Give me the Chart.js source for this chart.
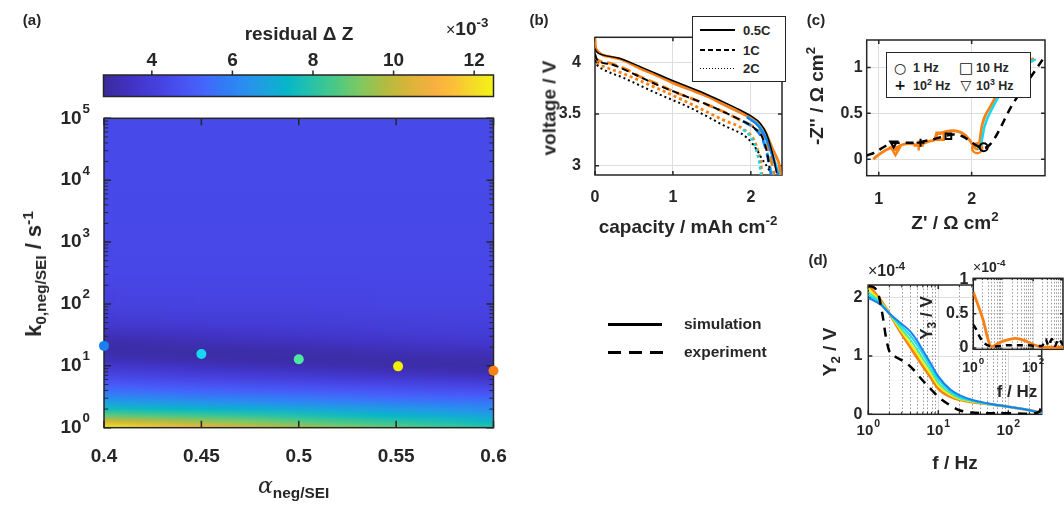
<!DOCTYPE html>
<html>
<head>
<meta charset="utf-8">
<script src="https://cdn.jsdelivr.net/npm/chart.js@4.4.1/dist/chart.umd.min.js"></script>
<style>
  html, body { margin: 0; padding: 0; background: #fff; }
  #fig { position: relative; width: 1064px; height: 505px; overflow: hidden;
         font-family: "Liberation Sans", Arial, sans-serif; font-weight: bold; color: #262626; }
  #fig canvas { position: absolute; left: 0; top: 0; }
  .t  { position: absolute; white-space: nowrap; line-height: 1; transform: translate(-50%, -50%); }
  .r  { transform: translate(-50%, -50%) rotate(-90deg); }
  .tl { position: absolute; white-space: nowrap; line-height: 1; transform: translateY(-50%); }
  sub, sup { font-size: 70%; line-height: 0; }
  .box { position: absolute; border: 1.5px solid #262626; background: #fff; box-sizing: border-box; }
  .ln  { position: absolute; }
  .sym { font-family: "DejaVu Sans", sans-serif; font-weight: bold; color: #111; }
</style>
</head>
<body>
<div id="fig">
  <canvas id="cbar" width="1064" height="505"></canvas>
  <canvas id="heat" width="1064" height="505"></canvas>
  <canvas id="volt" width="1064" height="505"></canvas>
  <canvas id="nyq" width="1064" height="505"></canvas>
  <canvas id="harm" width="1064" height="505"></canvas>
  <canvas id="inset" width="1064" height="505"></canvas>

  <!-- panel (a) -->
  <div class="t" style="left:32px;top:19px;font-size:15px">(a)</div>
  <div class="t" style="left:299px;top:33px;font-size:19px">residual &Delta; Z</div>
  <div class="tl" style="left:446px;top:28px;font-size:19px"><span style="font-weight:normal;font-size:16px">&times;</span>10<sup>-3</sup></div>
  <div class="t r" style="left:34px;top:274px;font-size:22px">k<sub>0,neg/SEI</sub> / s<sup>-1</sup></div>
  <div class="tl" style="left:258px;top:486px;font-size:22px"><span style="font-family:'DejaVu Serif',serif;font-style:italic;font-weight:normal">&alpha;</span><sub>neg/SEI</sub></div>

  <!-- panel (b) -->
  <div class="t" style="left:539px;top:19px;font-size:15px">(b)</div>
  <div class="t r" style="left:549px;top:108px;font-size:19px">voltage / V</div>
  <div class="t" style="left:688px;top:226px;font-size:19px">capacity / mAh cm<sup>-2</sup></div>
  <div class="box" style="left:692px;top:16px;width:94px;height:66px"></div>
  <div class="ln" style="left:700px;top:29px;width:35px;height:1.5px;background:#000"></div>
  <div class="ln" style="left:700px;top:49px;width:35px;height:1.5px;background:repeating-linear-gradient(90deg,#000 0 5px,transparent 5px 8px)"></div>
  <div class="ln" style="left:700px;top:67.5px;width:35px;height:1.5px;background:repeating-linear-gradient(90deg,#000 0 1.5px,transparent 1.5px 3px)"></div>
  <div class="tl" style="left:743px;top:30px;font-size:13px">0.5C</div>
  <div class="tl" style="left:743px;top:50px;font-size:13px">1C</div>
  <div class="tl" style="left:743px;top:68px;font-size:13px">2C</div>

  <!-- panel (c) -->
  <div class="t" style="left:816px;top:19px;font-size:15px">(c)</div>
  <div class="t r" style="left:816px;top:96px;font-size:19px">-Z'' / &Omega; cm<sup>2</sup></div>
  <div class="t" style="left:955px;top:222px;font-size:19px">Z' / &Omega; cm<sup>2</sup></div>
  <div class="box" style="left:886px;top:52px;width:145px;height:46px"></div>
  <div class="t sym" style="left:900px;top:67.5px;font-size:14px">&#9675;</div>
  <div class="t sym" style="left:966px;top:67.5px;font-size:15px">&#9633;</div>
  <div class="t sym" style="left:900px;top:85px;font-size:14px">+</div>
  <div class="t sym" style="left:966px;top:85px;font-size:14px">&#9661;</div>
  <div class="tl" style="left:913px;top:68px;font-size:12.5px">1 Hz</div>
  <div class="tl" style="left:976px;top:68px;font-size:12.5px">10 Hz</div>
  <div class="tl" style="left:913px;top:86px;font-size:12.5px">10<sup>2</sup> Hz</div>
  <div class="tl" style="left:976px;top:86px;font-size:12.5px">10<sup>3</sup> Hz</div>

  <!-- panel (d) -->
  <div class="t" style="left:818px;top:259px;font-size:15px">(d)</div>
  <div class="t r" style="left:829px;top:352px;font-size:19px">Y<sub>2</sub> / V</div>
  <div class="t" style="left:955px;top:462px;font-size:19px">f / Hz</div>
  <div class="tl" style="left:868px;top:271px;font-size:16px"><span style="font-weight:normal">&times;</span>10<sup>-4</sup></div>
  <div class="tl" style="left:973px;top:267px;font-size:14px"><span style="font-weight:normal">&times;</span>10<sup>-4</sup></div>
  <div class="t r" style="left:926px;top:318px;font-size:17px">Y<sub>3</sub> / V</div>
  <div class="t" style="left:1017px;top:391px;font-size:17px">f / Hz</div>

  <!-- shared line-style legend -->
  <div class="ln" style="left:608px;top:322.5px;width:54px;height:3px;background:#000"></div>
  <div class="ln" style="left:608px;top:351px;width:55px;height:3px;background:repeating-linear-gradient(90deg,#000 0 13px,transparent 13px 21px)"></div>
  <div class="tl" style="left:684px;top:324px;font-size:15.5px">simulation</div>
  <div class="tl" style="left:684px;top:352px;font-size:15.5px">experiment</div>
</div>

<script>
'use strict';

// ---------------------------------------------------------------------------
// Data
// ---------------------------------------------------------------------------

// (a) residual map: columns at alphaCols, rows at log10(k) = logKRows (x 1e-3)
const cbarTicks = [4, 6, 8, 10, 12];
const alphaTicks = [0.4, 0.45, 0.5, 0.55, 0.6];
const alphaCols = [0.4, 0.45, 0.5, 0.55, 0.6];
const logKRows = [0, 0.1, 0.2, 0.3, 0.4, 0.5, 0.6, 0.7, 0.8, 0.9, 1.0, 1.1, 1.2, 1.3, 1.4, 1.5, 1.7, 2.0, 2.5, 3, 4, 5];
const resA40 = [12.3, 10.3, 8.8, 7.6, 6.8, 6.1, 5.5, 5.0, 4.5, 4.1, 3.7, 3.3, 3.05, 3.0, 3.1, 3.35, 3.8, 4.15, 4.35, 4.4, 4.45, 4.45];
const resA45 = [11.0, 9.5, 8.3, 7.3, 6.5, 5.8, 5.2, 4.7, 4.2, 3.8, 3.4, 3.1, 3.0, 3.1, 3.3, 3.5, 3.9, 4.2, 4.35, 4.4, 4.45, 4.45];
const resA50 = [9.7, 8.7, 7.8, 7.0, 6.2, 5.6, 5.0, 4.5, 4.0, 3.6, 3.2, 3.0, 3.05, 3.2, 3.45, 3.65, 3.95, 4.2, 4.35, 4.4, 4.45, 4.45];
const resA55 = [8.8, 8.0, 7.3, 6.6, 5.9, 5.3, 4.8, 4.3, 3.8, 3.35, 3.05, 3.05, 3.2, 3.4, 3.6, 3.8, 4.05, 4.25, 4.35, 4.4, 4.45, 4.45];
const resA60 = [8.0, 7.4, 6.8, 6.2, 5.7, 5.1, 4.6, 4.1, 3.6, 3.15, 3.0, 3.1, 3.3, 3.55, 3.75, 3.9, 4.1, 4.25, 4.35, 4.4, 4.45, 4.45];
const residualCols = [resA40, resA45, resA50, resA55, resA60];
const kDecades = [1, 10, 100, 1000, 10000, 100000];
const optAlpha = [0.4, 0.45, 0.5, 0.551, 0.6];
const optK = [21, 15.5, 12.8, 9.8, 8.3];

// (b) discharge curves: capacity / mAh cm-2, voltage / V
const capTicks = [0, 1, 2];
const voltTicks = [3, 3.5, 4];
const capSim05 = [0, 0.005, 0.02, 0.1, 0.2, 0.36, 0.58, 0.8, 1.0, 1.2, 1.44, 1.65, 1.87, 2.04, 2.17, 2.27, 2.33, 2.36, 2.38];
const vSim05 = [4.23, 4.16, 4.12, 4.07, 4.05, 4.02, 3.94, 3.87, 3.8, 3.74, 3.67, 3.59, 3.51, 3.44, 3.35, 3.18, 3.08, 3.02, 2.91];
const capExp05 = [0, 0.02, 0.1, 0.3, 0.6, 1.0, 1.4, 1.8, 2.0, 2.12, 2.2, 2.26, 2.3, 2.33];
const vExp05 = [4.13, 4.1, 4.07, 4.04, 3.95, 3.82, 3.7, 3.56, 3.48, 3.41, 3.31, 3.17, 3.05, 2.93];
const capSim1 = [0, 0.02, 0.19, 0.4, 0.58, 0.8, 1.0, 1.2, 1.44, 1.65, 1.87, 2.08, 2.19, 2.25, 2.28, 2.3];
const vSim1 = [4.06, 4.03, 3.99, 3.93, 3.86, 3.79, 3.72, 3.66, 3.59, 3.52, 3.44, 3.35, 3.25, 3.09, 2.98, 2.91];
const capExp1 = [0, 0.02, 0.2, 0.4, 0.6, 0.8, 1.0, 1.2, 1.44, 1.65, 1.87, 2.05, 2.15, 2.21, 2.24];
const vExp1 = [4.08, 4.03, 3.98, 3.92, 3.85, 3.78, 3.72, 3.66, 3.59, 3.52, 3.44, 3.36, 3.27, 3.12, 2.98];
const capSim2 = [0, 0.02, 0.107, 0.36, 0.79, 1.22, 1.65, 1.91, 2.04, 2.1, 2.13, 2.14];
const vSim2 = [4.05, 4.0, 3.96, 3.89, 3.75, 3.6, 3.44, 3.35, 3.25, 3.12, 3.02, 2.91];
const capExp2 = [0, 0.02, 0.107, 0.36, 0.79, 1.22, 1.65, 1.95, 2.08, 2.14, 2.21, 2.24];
const vExp2 = [4.02, 3.98, 3.93, 3.85, 3.7, 3.56, 3.39, 3.27, 3.15, 3.07, 2.99, 2.95];
// visible tails of the other simulated alphas
const vTail05 = [3.47, 3.38, 3.22, 3.06, 2.96, 2.91];
const capTail05Blue = [1.95, 2.1, 2.22, 2.29, 2.33, 2.35];
const capTail05Cyan = [1.95, 2.11, 2.23, 2.3, 2.34, 2.36];
const vTail1 = [3.43, 3.35, 3.25, 3.1, 2.98, 2.91];
const capTail1Blue = [1.9, 2.06, 2.15, 2.21, 2.24, 2.26];
const capTail1Cyan = [1.9, 2.07, 2.16, 2.22, 2.25, 2.27];
const vTail2 = [3.35, 3.25, 3.12, 3.02, 2.91];
const capTail2Cyan = [1.9, 2.02, 2.08, 2.11, 2.13];

// (c) Nyquist: Z' and -Z'' / Ohm cm2
const zReTicks = [1, 2];
const zImTicks = [0, 0.5, 1];
const zReSim = [0.94, 1.0, 1.06, 1.12, 1.16, 1.18, 1.2, 1.26, 1.34, 1.43, 1.5, 1.56, 1.6, 1.62, 1.66, 1.72, 1.8, 1.86, 1.92, 1.97, 2.01, 2.04, 2.06, 2.08, 2.11, 2.2, 2.3, 2.45, 2.59, 2.67];
const zImSim = [0.0, 0.05, 0.09, 0.12, 0.14, 0.1, 0.13, 0.16, 0.17, 0.15, 0.18, 0.2, 0.21, 0.27, 0.28, 0.3, 0.31, 0.3, 0.27, 0.22, 0.16, 0.12, 0.11, 0.15, 0.36, 0.57, 0.74, 0.9, 1.05, 1.1];
const zReTailCyan = [2.07, 2.1, 2.14, 2.23, 2.33, 2.48, 2.62, 2.69];
const zImTailCyan = [0.11, 0.16, 0.36, 0.57, 0.74, 0.9, 1.05, 1.09];
const zReExp = [0.87, 0.95, 1.05, 1.12, 1.2, 1.3, 1.4, 1.5, 1.6, 1.7, 1.8, 1.9, 1.98, 2.05, 2.13, 2.46, 2.8];
const zImExp = [0.04, 0.07, 0.13, 0.17, 0.18, 0.18, 0.18, 0.2, 0.22, 0.25, 0.27, 0.25, 0.2, 0.15, 0.12, 0.63, 1.14];
// markers at 1 Hz, 10 Hz, 100 Hz, 1 kHz
const zReMarkSim = [2.06, 1.66, 1.43, 1.18];
const zImMarkSim = [0.12, 0.25, 0.15, 0.1];
const zReMarkExp = [2.13, 1.75, 1.45, 1.16];
const zImMarkExp = [0.13, 0.25, 0.18, 0.17];

// (d) second harmonic Y2 (x 1e-4 V) vs f / Hz
const y2Ticks = [0, 1, 2];
const fDecades = [1, 10, 100];
const fSim = [1, 1.5, 2, 3, 4, 5, 6, 8, 10, 15, 20, 30, 50, 100, 200, 300];
const y2Blue = [2.0, 1.88, 1.73, 1.55, 1.42, 1.26, 1.1, 0.85, 0.65, 0.42, 0.33, 0.25, 0.19, 0.13, 0.07, 0.02];
const y2Cyan = [2.05, 1.9, 1.73, 1.51, 1.35, 1.19, 1.04, 0.79, 0.6, 0.39, 0.3, 0.24, 0.18, 0.13, 0.07, 0.02];
const y2Green = [2.1, 1.92, 1.73, 1.46, 1.28, 1.11, 0.96, 0.73, 0.54, 0.36, 0.28, 0.23, 0.18, 0.13, 0.07, 0.02];
const y2Yellow = [2.16, 1.94, 1.73, 1.42, 1.21, 1.04, 0.89, 0.67, 0.49, 0.33, 0.26, 0.22, 0.18, 0.13, 0.07, 0.02];
const y2Orange = [2.22, 1.96, 1.73, 1.38, 1.15, 0.97, 0.83, 0.61, 0.44, 0.3, 0.25, 0.21, 0.18, 0.13, 0.07, 0.02];
const fExp = [1, 1.2, 1.4, 1.6, 1.8, 2, 2.5, 3, 4, 6, 8, 10, 15, 20, 30, 50, 100, 200, 280, 300];
const y2Exp = [2.2, 2.18, 2.05, 1.7, 1.3, 1.08, 0.98, 0.93, 0.82, 0.58, 0.42, 0.3, 0.15, 0.07, 0.03, 0.02, 0.02, 0.01, 0.05, 0.2];

// (d) inset: third harmonic Y3 (x 1e-4 V)
const y3Ticks = [0, 0.5, 1];
const fInsetDecades = [1, 100];
const fY3Sim = [1, 2, 4.1, 7, 12, 25, 50, 100, 170, 300, 1000];
const y3Sim = [0.82, 0.45, 0.02, 0.07, 0.11, 0.14, 0.11, 0.05, 0.02, 0.01, 0.01];
const fY3Exp = [1, 1.3, 1.7, 2.2, 3, 4.1, 8, 15, 30, 60, 120, 200, 260, 330, 420, 540, 700, 1000];
const y3Exp = [0.34, 0.26, 0.15, 0.08, 0.04, 0.02, 0.03, 0.04, 0.04, 0.04, 0.03, 0.03, 0.13, 0.03, 0.13, 0.03, 0.13, 0.04];

// ---------------------------------------------------------------------------
// Style
// ---------------------------------------------------------------------------

const W = 1064, H = 505;
const AXW = 50, AXH = 40;   // room kept for tick labels beside each plot box
const INK = '#262626';
const FONT = '"Liberation Sans", Arial, sans-serif';
const BLUE = '#1a7ff0', CYAN = '#14d9f0', GREEN = '#4de8a0', YELLOW = '#f2f000', ORANGE = '#f98015';
const GRID = '#dedede';
const C_LIM = [2.8, 12.48];
const CMAP = [
  [0.00, '#3a2a9a'], [0.08, '#4234c8'], [0.16, '#4746e6'], [0.22, '#4858f6'],
  [0.26, '#4466fc'], [0.30, '#3478f6'], [0.36, '#2a8ef0'], [0.42, '#1aa4dc'],
  [0.47, '#06b6c8'], [0.52, '#20c0b0'], [0.59, '#48c888'], [0.66, '#80c860'],
  [0.72, '#b0bc40'], [0.78, '#d8b438'], [0.85, '#f8b040'], [0.90, '#fcc038'],
  [0.95, '#f4dc28'], [1.00, '#f4f414'],
];

// plot boxes in page pixels
const A_CBAR = { l: 103.5, r: 493.5, t: 75, b: 96.5 };
const A_HEAT = { l: 104, r: 493.5, t: 118.3, b: 427.7 };
const A_VOLT = { l: 595, r: 782, t: 37.3, b: 175 };
const A_NYQ  = { l: 866.7, r: 1045, t: 40, b: 175.7 };
const A_HARM = { l: 868.3, r: 1041.7, t: 285, b: 414.3 };
const A_INS  = { l: 973.3, r: 1063, t: 278.3, b: 349.3 };

Chart.defaults.font.family = FONT;
Chart.defaults.font.weight = 'bold';
Chart.defaults.color = INK;
Chart.defaults.animation = false;
Chart.defaults.responsive = false;
Chart.defaults.devicePixelRatio = 1;
Chart.defaults.plugins.legend.display = false;
Chart.defaults.plugins.tooltip.enabled = false;

// ---------------------------------------------------------------------------
// Helpers
// ---------------------------------------------------------------------------

const xy = (xs, ys) => xs.map((x, i) => ({ x, y: ys[i] }));

function hexRgb(h) {
  return [parseInt(h.slice(1, 3), 16), parseInt(h.slice(3, 5), 16), parseInt(h.slice(5, 7), 16)];
}
const CMAP_RGB = CMAP.map(([f, c]) => [f, hexRgb(c)]);

function cmap(v) {
  const f = Math.min(1, Math.max(0, (v - C_LIM[0]) / (C_LIM[1] - C_LIM[0])));
  for (let i = 1; i < CMAP_RGB.length; i++) {
    const [f1, c1] = CMAP_RGB[i];
    if (f <= f1) {
      const [f0, c0] = CMAP_RGB[i - 1];
      const t = (f - f0) / (f1 - f0);
      const c = c0.map((a, k) => Math.round(a + (c1[k] - a) * t));
      return `rgb(${c[0]},${c[1]},${c[2]})`;
    }
  }
  return CMAP[CMAP.length - 1][1];
}

// layout padding so that the chart area lands exactly on the box `a`
function padFor(a) {
  return { left: a.l - AXW, top: a.t, right: W - a.r, bottom: H - a.b - AXH };
}

function axis(type, min, max, ticks, o = {}) {
  return {
    type, min, max,
    position: o.position,
    afterBuildTicks: s => { s.ticks = ticks.map(v => ({ value: v })); },
    afterFit: s => { if (s.isHorizontal()) s.height = AXH; else s.width = AXW; },
    border: { display: false },
    grid: { display: !!o.grid, color: o.grid, lineWidth: 1, drawTicks: false },
    ticks: {
      display: !!o.size,
      padding: o.pad || 0,
      font: { size: o.size || 16, weight: 'bold' },
      color: INK,
      autoSkip: false,
      maxRotation: 0,
      callback: v => String(v),
    },
  };
}

function line(xs, ys, color, width, dash) {
  return {
    data: xy(xs, ys), showLine: true, borderColor: color, borderWidth: width,
    borderDash: dash || [], pointRadius: 0, fill: false, cubicInterpolationMode: 'monotone',
  };
}

function minorsOf(s) {
  if (s.type !== 'logarithmic') return [];
  const out = [];
  for (let d = Math.floor(Math.log10(s.min)); d <= Math.ceil(Math.log10(s.max)); d++) {
    for (let m = 2; m <= 9; m++) {
      const v = m * Math.pow(10, d);
      if (v > s.min && v < s.max) out.push(v);
    }
  }
  return out;
}

function drawPow(ctx, exp, x, y, size, align) {
  const base = '10', sup = String(exp);
  ctx.font = `bold ${size}px ${FONT}`;
  const bw = ctx.measureText(base).width;
  ctx.font = `bold ${size * 0.7}px ${FONT}`;
  const sw = ctx.measureText(sup).width;
  const x0 = align === 'right' ? x - bw - sw - 1 : x - (bw + sw + 1) / 2;
  ctx.textAlign = 'left';
  ctx.textBaseline = 'middle';
  ctx.font = `bold ${size}px ${FONT}`;
  ctx.fillText(base, x0, y);
  ctx.font = `bold ${size * 0.7}px ${FONT}`;
  ctx.fillText(sup, x0 + bw + 1, y - size * 0.48);
}

// ---------------------------------------------------------------------------
// Plugins
// ---------------------------------------------------------------------------

// box, inward ticks, minor log grid and 10^n labels (MATLAB look)
const framePlugin = {
  id: 'frame',
  beforeDraw(chart, _args, o) {
    if (!o.fill) return;
    const { ctx, chartArea: a } = chart;
    ctx.save();
    ctx.fillStyle = o.fill;
    ctx.fillRect(a.left, a.top, a.width, a.height);
    ctx.restore();
  },
  beforeDatasetsDraw(chart, _args, o) {
    const { ctx, chartArea: a, scales: { x, y } } = chart;
    const len = o.len || 5, mlen = len * 0.6;
    ctx.save();
    if (o.minorGrid) {
      ctx.strokeStyle = o.minorGrid;
      ctx.lineWidth = 1;
      ctx.setLineDash([1.5, 2]);
      ctx.beginPath();
      for (const v of minorsOf(x)) {
        const p = Math.round(x.getPixelForValue(v)) + 0.5;
        ctx.moveTo(p, a.top); ctx.lineTo(p, a.bottom);
      }
      ctx.stroke();
      ctx.setLineDash([]);
    }
    ctx.strokeStyle = INK;
    ctx.lineWidth = o.lw || 1.5;
    ctx.beginPath();
    for (const t of x.ticks) {
      const p = x.getPixelForValue(t.value);
      ctx.moveTo(p, a.bottom); ctx.lineTo(p, a.bottom - len);
      ctx.moveTo(p, a.top); ctx.lineTo(p, a.top + len);
    }
    for (const t of y.ticks) {
      const p = y.getPixelForValue(t.value);
      ctx.moveTo(a.left, p); ctx.lineTo(a.left + len, p);
      ctx.moveTo(a.right, p); ctx.lineTo(a.right - len, p);
    }
    ctx.stroke();
    ctx.lineWidth = 1;
    ctx.beginPath();
    for (const v of minorsOf(x)) {
      const p = x.getPixelForValue(v);
      ctx.moveTo(p, a.bottom); ctx.lineTo(p, a.bottom - mlen);
      ctx.moveTo(p, a.top); ctx.lineTo(p, a.top + mlen);
    }
    for (const v of minorsOf(y)) {
      const p = y.getPixelForValue(v);
      ctx.moveTo(a.left, p); ctx.lineTo(a.left + mlen, p);
      ctx.moveTo(a.right, p); ctx.lineTo(a.right - mlen, p);
    }
    ctx.stroke();
    ctx.lineWidth = o.lw || 1.5;
    ctx.strokeRect(a.left, a.top, a.width, a.height);
    ctx.fillStyle = INK;
    if (o.logX) {
      for (const t of x.ticks) {
        drawPow(ctx, Math.round(Math.log10(t.value)), x.getPixelForValue(t.value), a.bottom + o.logX.dy, o.logX.size, 'center');
      }
    }
    if (o.logY) {
      for (const t of y.ticks) {
        drawPow(ctx, Math.round(Math.log10(t.value)), a.left - o.logY.dx, y.getPixelForValue(t.value), o.logY.size, 'right');
      }
    }
    ctx.restore();
  },
};

// residual map cells, shaded between the read columns
const heatmapPlugin = {
  id: 'heatmap',
  beforeDatasetsDraw(chart) {
    const { ctx, chartArea: a, scales: { x, y } } = chart;
    const steps = 16;
    ctx.save();
    ctx.beginPath();
    ctx.rect(a.left, a.top, a.width, a.height);
    ctx.clip();
    for (let i = 0; i < alphaCols.length - 1; i++) {
      const x0 = x.getPixelForValue(alphaCols[i]);
      const x1 = x.getPixelForValue(alphaCols[i + 1]);
      for (let s = 0; s < steps; s++) {
        const t = (s + 0.5) / steps;
        const g = ctx.createLinearGradient(0, a.bottom, 0, a.top);
        logKRows.forEach((lk, j) => {
          const v = residualCols[i][j] * (1 - t) + residualCols[i + 1][j] * t;
          const py = y.getPixelForValue(Math.pow(10, lk));
          g.addColorStop(Math.min(1, Math.max(0, (a.bottom - py) / a.height)), cmap(v));
        });
        ctx.fillStyle = g;
        const sx = x0 + (x1 - x0) * s / steps;
        ctx.fillRect(sx, a.top, (x1 - x0) / steps + 1, a.height);
      }
    }
    ctx.restore();
  },
};

// colour bar strip + outward ticks on top
const colorbarPlugin = {
  id: 'colorbar',
  beforeDatasetsDraw(chart) {
    const { ctx, chartArea: a, scales: { x } } = chart;
    const g = ctx.createLinearGradient(a.left, 0, a.right, 0);
    for (const [f, c] of CMAP) {
      const px = x.getPixelForValue(C_LIM[0] + f * (C_LIM[1] - C_LIM[0]));
      g.addColorStop((px - a.left) / a.width, c);
    }
    ctx.save();
    ctx.fillStyle = g;
    ctx.fillRect(a.left, a.top, a.width, a.height);
    ctx.strokeStyle = INK;
    ctx.lineWidth = 1.5;
    ctx.strokeRect(a.left, a.top, a.width, a.height);
    ctx.beginPath();
    for (const t of x.ticks) {
      const p = x.getPixelForValue(t.value);
      ctx.moveTo(p, a.top); ctx.lineTo(p, a.top - 4.5);
    }
    ctx.stroke();
    ctx.restore();
  },
};

// ---------------------------------------------------------------------------
// Charts
// ---------------------------------------------------------------------------

new Chart(document.getElementById('cbar'), {
  type: 'scatter',
  data: { datasets: [] },
  options: {
    layout: { padding: { left: A_CBAR.l, top: A_CBAR.t - AXH, right: W - A_CBAR.r, bottom: H - A_CBAR.b } },
    scales: {
      x: axis('linear', C_LIM[0], C_LIM[1], cbarTicks, { position: 'top', size: 19, pad: 3 }),
      y: { display: false, min: 0, max: 1 },
    },
  },
  plugins: [colorbarPlugin],
});

new Chart(document.getElementById('heat'), {
  type: 'scatter',
  data: {
    datasets: [{
      data: xy(optAlpha, optK),
      pointRadius: 5,
      pointBorderWidth: 0,
      pointBackgroundColor: [BLUE, CYAN, GREEN, YELLOW, ORANGE],
      clip: false,
    }],
  },
  options: {
    layout: { padding: padFor(A_HEAT) },
    scales: {
      x: axis('linear', 0.4, 0.6, alphaTicks, { size: 19, pad: 18 }),
      y: axis('logarithmic', 1, 1e5, kDecades, {}),
    },
    plugins: { frame: { len: 7, logY: { size: 19, dx: 14 } } },
  },
  plugins: [heatmapPlugin, framePlugin],
});

new Chart(document.getElementById('volt'), {
  type: 'scatter',
  data: {
    datasets: [
      line(capExp05, vExp05, '#000', 1.5),
      line(capExp1, vExp1, '#000', 2, [7, 4]),
      line(capExp2, vExp2, '#000', 2, [2, 3]),
      line(capTail05Blue, vTail05, BLUE, 2.5),
      line(capTail05Cyan, vTail05, CYAN, 2.5),
      line(capTail1Blue, vTail1, BLUE, 2.5, [9, 5]),
      line(capTail1Cyan, vTail1, CYAN, 2.5, [9, 5]),
      line(capTail2Cyan, vTail2, CYAN, 2.5, [3, 3]),
      line(capSim05, vSim05, ORANGE, 2.8),
      line(capSim1, vSim1, ORANGE, 2.8, [10, 5]),
      line(capSim2, vSim2, ORANGE, 2.8, [3, 3]),
    ],
  },
  options: {
    layout: { padding: padFor(A_VOLT) },
    scales: {
      x: axis('linear', 0, 2.4, capTicks, { size: 16, pad: 13, grid: GRID }),
      y: axis('linear', 2.91, 4.24, voltTicks, { size: 16, pad: 14, grid: GRID }),
    },
    plugins: { frame: { len: 4 } },
  },
  plugins: [framePlugin],
});

const markStyles = ['circle', 'rect', 'cross', 'triangle'];
const markRot = [0, 0, 0, 180];

new Chart(document.getElementById('nyq'), {
  type: 'scatter',
  data: {
    datasets: [
      line(zReExp, zImExp, '#000', 2.5, [8, 6]),
      {
        data: xy(zReMarkExp, zImMarkExp), pointStyle: markStyles, pointRotation: markRot,
        pointRadius: 4, pointBorderColor: '#000', pointBackgroundColor: 'rgba(0,0,0,0)', pointBorderWidth: 2,
      },
      line(zReTailCyan, zImTailCyan, CYAN, 2.5),
      line(zReSim, zImSim, ORANGE, 2.8),
      {
        data: xy(zReMarkSim, zImMarkSim), pointStyle: markStyles, pointRotation: markRot,
        pointRadius: 5, pointBorderColor: ORANGE, pointBackgroundColor: 'rgba(0,0,0,0)', pointBorderWidth: 2.5,
      },
    ],
  },
  options: {
    layout: { padding: padFor(A_NYQ) },
    scales: {
      x: axis('linear', 0.87, 2.79, zReTicks, { size: 16, pad: 14, grid: GRID }),
      y: axis('linear', -0.18, 1.3, zImTicks, { size: 16, pad: 4, grid: GRID }),
    },
    plugins: { frame: { len: 4 } },
  },
  plugins: [framePlugin],
});

new Chart(document.getElementById('harm'), {
  type: 'scatter',
  data: {
    datasets: [
      line(fExp, y2Exp, '#000', 2.5, [9, 7]),
      line(fSim, y2Blue, BLUE, 2),
      line(fSim, y2Cyan, CYAN, 2),
      line(fSim, y2Green, GREEN, 2),
      line(fSim, y2Yellow, YELLOW, 2),
      line(fSim, y2Orange, ORANGE, 2.8),
    ],
  },
  options: {
    layout: { padding: padFor(A_HARM) },
    scales: {
      x: axis('logarithmic', 1, 300, fDecades, { grid: GRID }),
      y: axis('linear', 0, 2.22, y2Ticks, { size: 16, pad: 6, grid: GRID }),
    },
    plugins: { frame: { len: 4, minorGrid: '#9a9a9a', logX: { size: 15, dy: 17 } } },
  },
  plugins: [framePlugin],
});

new Chart(document.getElementById('inset'), {
  type: 'scatter',
  data: {
    datasets: [
      line(fY3Exp, y3Exp, '#000', 2.5, [6, 5]),
      line(fY3Sim, y3Sim, ORANGE, 2.8),
    ],
  },
  options: {
    layout: { padding: padFor(A_INS) },
    scales: {
      x: axis('logarithmic', 1, 1000, fInsetDecades, { grid: GRID }),
      y: axis('linear', -0.02, 1.02, y3Ticks, { size: 16, pad: 5, grid: GRID }),
    },
    plugins: { frame: { len: 3, fill: '#fff', minorGrid: '#9a9a9a', logX: { size: 14, dy: 19 } } },
  },
  plugins: [framePlugin],
});
</script>
</body>
</html>
